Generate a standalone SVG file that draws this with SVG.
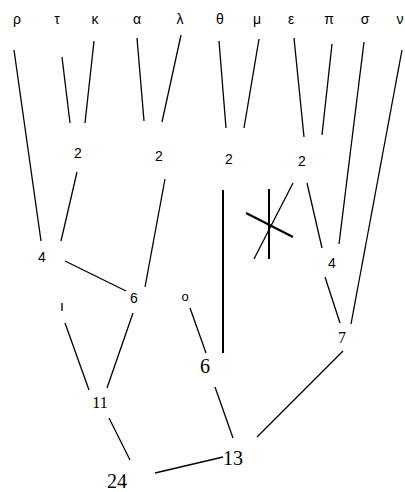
<svg xmlns="http://www.w3.org/2000/svg" width="405" height="492" viewBox="0 0 405 492">
<style>
.s{font-family:"Liberation Sans",Arial,sans-serif;font-size:14px;fill:#000;text-anchor:middle}
.r{font-family:"Liberation Serif","Times New Roman",serif;fill:#000;text-anchor:middle}
.l{stroke:#000;stroke-width:1.3;fill:none;stroke-linecap:butt}
.t{stroke:#000;stroke-width:2;fill:none}
</style>
<rect width="405" height="492" fill="#fff"/>
<g id="leaves">
<g id="n-rho"><text class="s" x="17" y="24">ρ</text></g>
<g id="n-tau"><text class="s" x="57" y="24">τ</text></g>
<g id="n-kappa"><text class="s" x="95" y="24">κ</text></g>
<g id="n-alpha"><text class="s" x="137" y="24">α</text></g>
<g id="n-lambda"><text class="s" x="180" y="24">λ</text></g>
<g id="n-theta"><text class="s" x="220" y="24">θ</text></g>
<g id="n-mu"><text class="s" x="257" y="24">μ</text></g>
<g id="n-epsilon"><text class="s" x="291" y="24">ε</text></g>
<g id="n-pi"><text class="s" x="329" y="24">π</text></g>
<g id="n-sigma"><text class="s" x="365" y="24">σ</text></g>
<g id="n-nu"><text class="s" x="400" y="24">ν</text></g>
</g>
<g id="n-2a"><text class="s" x="78" y="158">2</text></g>
<g id="n-2b"><text class="s" x="159" y="161">2</text></g>
<g id="n-2c"><text class="s" x="229" y="164">2</text></g>
<g id="n-2d"><text class="s" x="302" y="166">2</text></g>
<g id="n-4a"><text class="s" x="42" y="262">4</text></g>
<g id="n-4b"><text class="s" x="332" y="268">4</text></g>
<g id="n-6a"><text class="s" x="134" y="303">6</text></g>
<g id="n-o"><text class="s" x="185" y="301" style="font-size:13px">o</text></g>
<g id="n-tick"><line class="l" x1="62" y1="303" x2="62" y2="311"/></g>
<g id="n-6b"><text class="r" x="205" y="373" style="font-size:20px">6</text></g>
<g id="n-7"><text class="r" x="342" y="343" style="font-size:16px">7</text></g>
<g id="n-11"><text class="r" x="100" y="408" style="font-size:16px">11</text></g>
<g id="n-13"><text class="r" x="233" y="465" style="font-size:20px">13</text></g>
<g id="n-24"><text class="r" x="117" y="488" style="font-size:20px">24</text></g>
<g id="connectors">
<line class="l" x1="14" y1="50" x2="41" y2="241"/>
<line class="l" x1="62" y1="57" x2="70" y2="123"/>
<line class="l" x1="94" y1="41" x2="85" y2="123"/>
<line class="l" x1="137" y1="38" x2="144" y2="121"/>
<line class="l" x1="181" y1="35" x2="162" y2="122"/>
<line class="l" x1="219" y1="41" x2="226" y2="128"/>
<line class="l" x1="259" y1="39" x2="244" y2="128"/>
<line class="l" x1="294" y1="38" x2="304" y2="137"/>
<line class="l" x1="332" y1="44" x2="322" y2="135"/>
<line class="l" x1="364" y1="42" x2="339" y2="244"/>
<line class="l" x1="402" y1="50" x2="351" y2="324"/>
<line class="l" x1="77" y1="172" x2="61" y2="241"/>
<line class="l" x1="165" y1="179" x2="145" y2="287"/>
<line class="t" x1="223" y1="190" x2="223" y2="353"/>
<line class="l" x1="293" y1="183" x2="254" y2="259"/>
<line class="l" x1="307" y1="183" x2="322" y2="248"/>
<line class="t" x1="269" y1="189" x2="269" y2="259"/>
<line class="t" x1="246" y1="213" x2="293" y2="237"/>
<line class="l" x1="65" y1="261" x2="126" y2="291"/>
<line class="l" x1="325" y1="277" x2="340" y2="323"/>
<line class="l" x1="190" y1="308" x2="206" y2="353"/>
<line class="l" x1="65" y1="323" x2="89" y2="390"/>
<line class="l" x1="133" y1="313" x2="107" y2="388"/>
<line class="l" x1="215" y1="387" x2="233" y2="438"/>
<line class="l" x1="343" y1="351" x2="257" y2="437"/>
<line class="l" x1="109" y1="418" x2="130" y2="460"/>
<line class="l" x1="155" y1="473" x2="223" y2="457"/>
</g>
</svg>
